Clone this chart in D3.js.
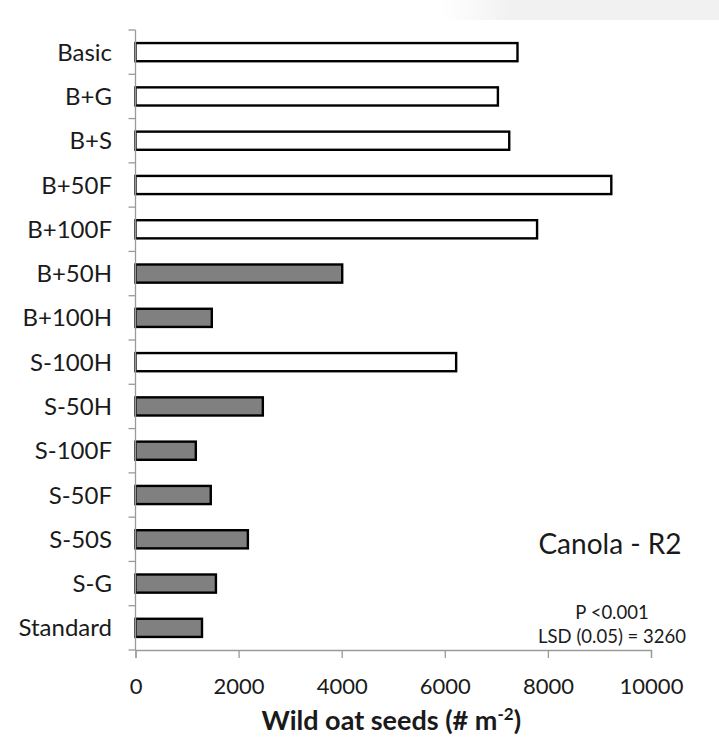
<!DOCTYPE html>
<html>
<head>
<meta charset="utf-8">
<script src="https://cdn.jsdelivr.net/npm/d3@7"></script>
<style>
  html, body { margin: 0; padding: 0; background: #fff; }
  svg { display: block; }
  text { font-family: Lato, "Open Sans", sans-serif; fill: #1a1a1a; }
</style>
</head>
<body>
<svg id="chart" width="719" height="749"></svg>
<script>
// Treatments, top to bottom
const treatments = ["Basic", "B+G", "B+S", "B+50F", "B+100F", "B+50H", "B+100H",
  "S-100H", "S-50H", "S-100F", "S-50F", "S-50S", "S-G", "Standard"];
// Wild oat seed density (# m-2)
const seeds = [7410, 7030, 7250, 9230, 7790, 4010, 1480,
  6220, 2470, 1170, 1460, 2180, 1560, 1290];
// Open (white) vs shaded (grey) bars
const shaded = [false, false, false, false, false, true, true,
  false, true, true, true, true, true, true];
const xTicks = [0, 2000, 4000, 6000, 8000, 10000];
const chartTitle = "Canola - R2";
const statLines = ["P <0.001", "LSD (0.05) = 3260"];

const svg = d3.select("#chart");
const plotLeft = 135.5, plotRight = 651, plotTop = 30, plotBottom = 650;

// faint shading at the top edge
const defs = svg.append("defs");
const grad = defs.append("linearGradient").attr("id", "topfade")
  .attr("x1", 0).attr("x2", 1).attr("y1", 0).attr("y2", 0);
grad.append("stop").attr("offset", 0).attr("stop-color", "#f4f4f4").attr("stop-opacity", 0);
grad.append("stop").attr("offset", 0.25).attr("stop-color", "#f1f1f1").attr("stop-opacity", 1);
grad.append("stop").attr("offset", 1).attr("stop-color", "#f1f1f1").attr("stop-opacity", 1);
svg.append("rect").attr("x", 440).attr("y", 0).attr("width", 279).attr("height", 20)
  .attr("fill", "url(#topfade)");

const x = d3.scaleLinear().domain([0, 10000]).range([plotLeft, plotRight]);
const y = d3.scaleBand().domain(treatments).range([plotTop, plotBottom])
  .paddingInner(0.59).paddingOuter(0.295);

// bars
svg.append("g").selectAll("rect").data(treatments).join("rect")
  .attr("x", x(0))
  .attr("y", d => y(d))
  .attr("width", (d, i) => x(seeds[i]) - x(0))
  .attr("height", y.bandwidth())
  .attr("fill", (d, i) => shaded[i] ? "#808080" : "#ffffff")
  .attr("stroke", "#000")
  .attr("stroke-width", 2.4);

// y axis: line, boundary ticks, labels
const yAxis = svg.append("g");
yAxis.append("line").attr("x1", plotLeft).attr("x2", plotLeft).attr("y1", plotTop).attr("y2", plotBottom)
  .attr("stroke", "#9a9a9a").attr("stroke-width", 1.3);
const boundaries = d3.range(treatments.length + 1).map(i => plotTop + i * y.step());
yAxis.selectAll("line.tick").data(boundaries).join("line").attr("class", "tick")
  .attr("x1", plotLeft - 7).attr("x2", plotLeft).attr("y1", d => d).attr("y2", d => d)
  .attr("stroke", "#9a9a9a").attr("stroke-width", 1.3);
yAxis.selectAll("text").data(treatments).join("text")
  .attr("x", plotLeft - 23.5)
  .attr("y", d => y(d) + y.bandwidth() / 2)
  .attr("dy", "0.36em")
  .attr("text-anchor", "end")
  .attr("font-size", 24)
  .text(d => d);

// x axis
const xAxis = svg.append("g").attr("transform", `translate(0,${plotBottom})`)
  .call(d3.axisBottom(x).tickValues(xTicks).tickSize(8).tickPadding(20).tickFormat(d3.format("d")));
xAxis.select(".domain").attr("stroke", "#9a9a9a").attr("stroke-width", 1.3);
xAxis.selectAll(".tick line").attr("stroke", "#9a9a9a").attr("stroke-width", 1.3);
xAxis.selectAll(".tick text").attr("font-size", 22).attr("fill", "#1a1a1a")
  .attr("font-family", "Lato, 'Open Sans', sans-serif");

// axis title
const title = svg.append("text").attr("x", (plotLeft + plotRight) / 2 - 2).attr("y", 730)
  .attr("text-anchor", "middle").attr("font-size", 27).attr("font-weight", "bold");
title.append("tspan").text("Wild oat seeds (# m");
title.append("tspan").attr("dy", -10).attr("font-size", 17).text("-2");
title.append("tspan").attr("dy", 10).text(")");

// panel label and statistics
svg.append("text").attr("x", 610).attr("y", 554).attr("text-anchor", "middle")
  .attr("font-size", 28).text(chartTitle);
svg.selectAll("text.stat").data(statLines).join("text").attr("class", "stat")
  .attr("x", 612).attr("y", (d, i) => 619 + i * 24).attr("text-anchor", "middle")
  .attr("font-size", 18.5).text(d => d);
</script>
</body>
</html>
